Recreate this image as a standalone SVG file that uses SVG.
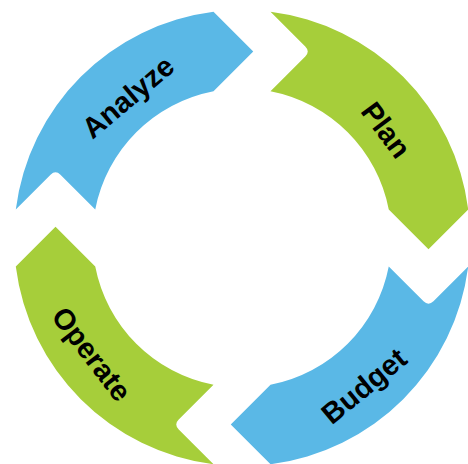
<svg xmlns="http://www.w3.org/2000/svg" xmlns:xlink="http://www.w3.org/1999/xlink" width="468" height="464" viewBox="0 0 468 464">
  <style>
    .blue { fill: #5AB8E6; }
    .green { fill: #A6CE3A; }
    .lbl { font-family: "Liberation Sans", Arial, sans-serif; font-weight: bold; font-size: 29px; fill: #000; text-anchor: middle; dominant-baseline: central; }
  </style>
  <defs>
    <path id="seg" d="M -226.21,-28.5 A 228 228 0 0 1 -28.5,-226.21 L 11.23,-186.49 L -28.5,-146.76 A 149.5 149.5 0 0 0 -146.76,-28.5 L -181.54,-63.28 Q -186.49,-68.23 -191.44,-63.28 Z"/>
  </defs>
  <rect width="468" height="464" fill="#FFFFFF"/>
  <g id="connectors"></g>
  <g id="analyze">
    <use xlink:href="#seg" href="#seg" class="blue" transform="translate(242,238)"/>
    <text class="lbl" transform="translate(128,97) rotate(-40)">Analyze</text>
  </g>
  <g id="plan">
    <use xlink:href="#seg" href="#seg" class="green" transform="translate(242,238) rotate(90)"/>
    <text class="lbl" transform="translate(386,130) rotate(53.4)">Plan</text>
  </g>
  <g id="budget">
    <use xlink:href="#seg" href="#seg" class="blue" transform="translate(242,238) rotate(180)"/>
    <text class="lbl" transform="translate(364,386) rotate(-39.5)">Budget</text>
  </g>
  <g id="operate">
    <use xlink:href="#seg" href="#seg" class="green" transform="translate(242,238) rotate(270)"/>
    <text class="lbl" transform="translate(91.5,354) rotate(52.4)">Operate</text>
  </g>
</svg>
